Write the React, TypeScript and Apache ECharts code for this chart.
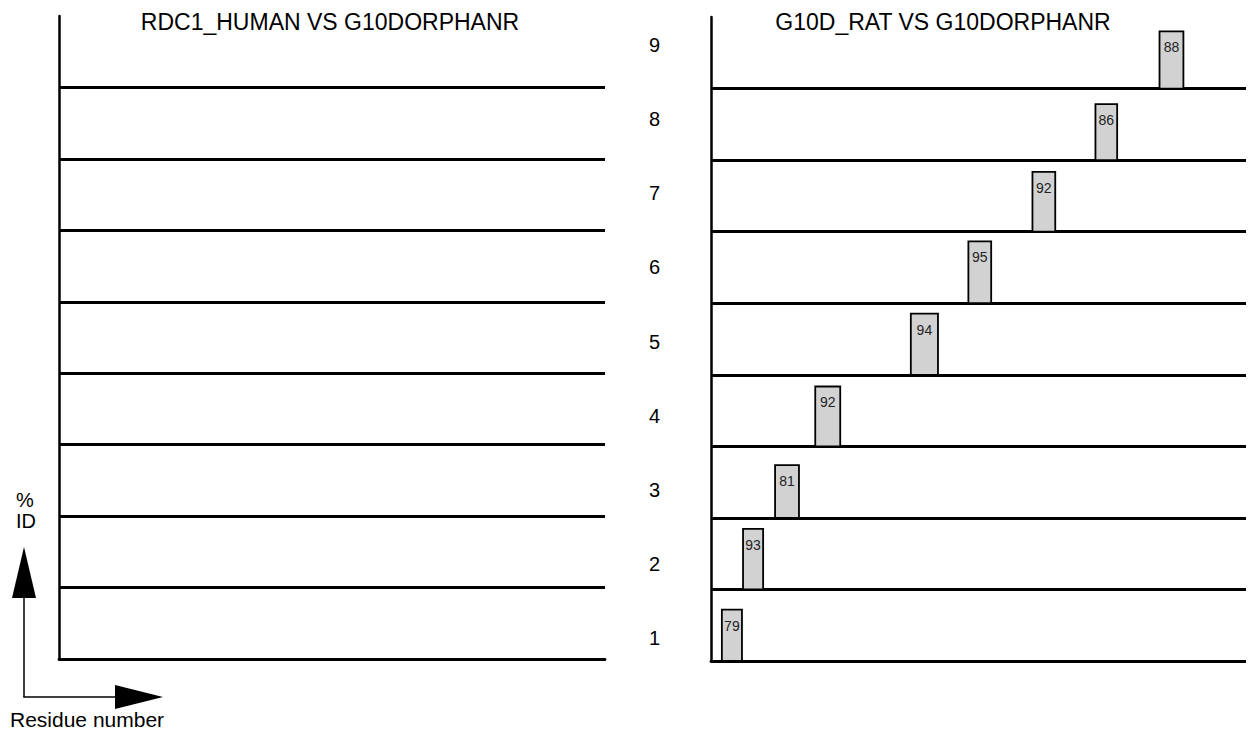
import React, { useEffect, useRef } from "react";
import * as echarts from "echarts";

const FONT = "'Liberation Sans', Arial, Helvetica, sans-serif";

// Row numbers (1 = bottom row)
const rowLabels = ["1", "2", "3", "4", "5", "6", "7", "8", "9"];
// % identity of each hit (right panel: G10D_RAT vs G10DORPHANR)
const identity = [79, 93, 81, 92, 94, 95, 92, 86, 88];
// residue span of each hit (start, end)
const hitStart = [10, 29.5, 59, 96, 184, 237, 296, 354, 413];
const hitEnd = [28.5, 48, 81, 119, 209, 258, 317, 374, 435];
// left panel (RDC1_HUMAN vs G10DORPHANR) has no hits
const leftHits: number[][] = [];

const ROW_SPAN = 110; // value units per row band
const RES_MAX = 500;

export default function App() {
  const ref = useRef<HTMLDivElement>(null);

  useEffect(() => {
    if (!ref.current) return;
    const chart = echarts.init(ref.current, undefined, { renderer: "svg" });

    const rightData = identity.map((v, i) => [hitStart[i], hitEnd[i], i * ROW_SPAN, v]);

    const valueY = (gridIndex: number) => ({
      gridIndex,
      type: "value",
      min: 0,
      max: ROW_SPAN * rowLabels.length,
      interval: ROW_SPAN,
      axisLine: { show: true, lineStyle: { color: "#000", width: 2.5 } },
      axisTick: { show: false },
      axisLabel: { show: false },
      splitLine: {
        show: true,
        showMinLine: false,
        showMaxLine: false,
        lineStyle: { color: "#000", width: 2.8 },
      },
    });

    const valueX = (gridIndex: number, show = true) => ({
      gridIndex,
      type: "value",
      min: 0,
      max: RES_MAX,
      show,
      axisLine: { show: true, onZero: false, lineStyle: { color: "#000", width: 2.8 } },
      axisTick: { show: false },
      axisLabel: { show: false },
      splitLine: { show: false },
    });

    const renderHit = (params: any, api: any) => {
      const x0 = api.value(0);
      const x1 = api.value(1);
      const base = api.value(2);
      const v = api.value(3);
      const p0 = api.coord([x0, base]);
      const p1 = api.coord([x1, base + v]);
      return {
        type: "group",
        children: [
          {
            type: "rect",
            shape: { x: p0[0], y: p1[1], width: p1[0] - p0[0], height: p0[1] - p1[1] },
            style: { fill: "#d2d2d2", stroke: "#000", lineWidth: 1.8 },
          },
          {
            type: "text",
            style: {
              text: String(v),
              x: (p0[0] + p1[0]) / 2,
              y: p1[1] + 9,
              align: "center",
              verticalAlign: "top",
              fontSize: 14,
              fontFamily: FONT,
              fill: "#222",
            },
          },
        ],
      };
    };

    const option: any = {
      animation: false,
      backgroundColor: "#fff",
      title: [
        {
          text: "RDC1_HUMAN VS G10DORPHANR",
          left: 325,
          top: 5,
          textAlign: "center",
          textStyle: { fontFamily: FONT, fontSize: 23, fontWeight: "normal", color: "#000" },
        },
        {
          text: "G10D_RAT VS G10DORPHANR",
          left: 938,
          top: 5,
          textAlign: "center",
          textStyle: { fontFamily: FONT, fontSize: 23, fontWeight: "normal", color: "#000" },
        },
      ],
      grid: [
        { left: 59, right: 649, top: 16, bottom: 78 },
        { left: 711, right: 0, top: 17, bottom: 76 },
        { left: 711, right: 0, top: 8, bottom: 62 },
      ],
      xAxis: [valueX(0), valueX(1), valueX(2, false)],
      yAxis: [
        valueY(0),
        valueY(1),
        {
          gridIndex: 2,
          type: "category",
          data: rowLabels,
          position: "left",
          axisLine: { show: false },
          axisTick: { show: false },
          splitLine: { show: false },
          axisLabel: { fontSize: 20, fontFamily: FONT, color: "#000", margin: 51 },
        },
      ],
      series: [
        {
          type: "custom",
          xAxisIndex: 0,
          yAxisIndex: 0,
          data: leftHits,
          renderItem: renderHit,
        },
        {
          type: "custom",
          xAxisIndex: 1,
          yAxisIndex: 1,
          data: rightData,
          renderItem: renderHit,
        },
      ],
      graphic: [
        {
          type: "text",
          style: { text: "%", x: 25, y: 500, align: "center", verticalAlign: "middle", fontSize: 20, fontFamily: FONT, fill: "#000" },
        },
        {
          type: "text",
          style: { text: "ID", x: 26, y: 521, align: "center", verticalAlign: "middle", fontSize: 20, fontFamily: FONT, fill: "#000" },
        },
        {
          type: "line",
          shape: { x1: 24, y1: 697, x2: 24, y2: 595 },
          style: { stroke: "#000", lineWidth: 1.5 },
        },
        {
          type: "polygon",
          shape: { points: [[24, 547], [12, 598], [36, 598]] },
          style: { fill: "#000" },
        },
        {
          type: "line",
          shape: { x1: 23.3, y1: 697, x2: 118, y2: 697 },
          style: { stroke: "#000", lineWidth: 1.5 },
        },
        {
          type: "polygon",
          shape: { points: [[163, 697], [115, 685], [115, 709]] },
          style: { fill: "#000" },
        },
        {
          type: "text",
          style: { text: "Residue number", x: 10, y: 719, align: "left", verticalAlign: "middle", fontSize: 21, fontFamily: FONT, fill: "#000" },
        },
      ],
    };

    chart.setOption(option);
    return () => chart.dispose();
  }, []);

  return <div ref={ref} style={{ width: 1254, height: 737, margin: -8 }} />;
}
